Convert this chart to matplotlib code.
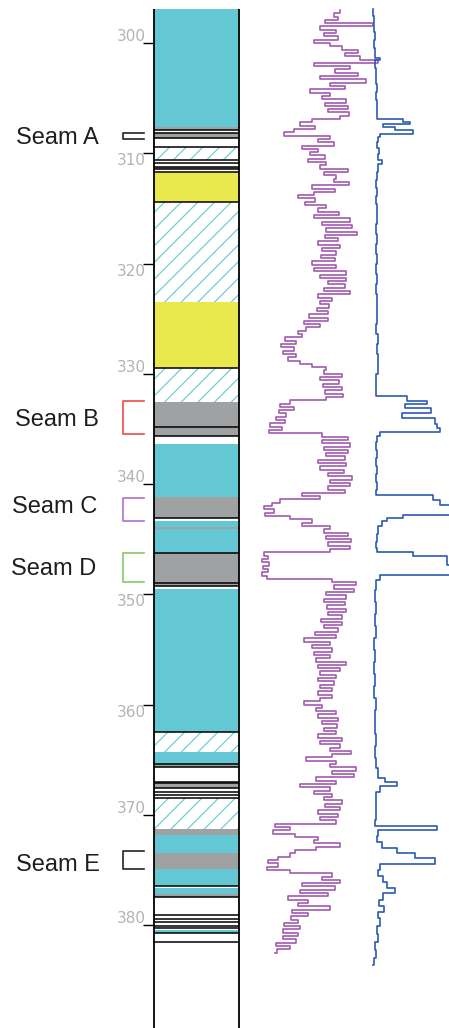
import matplotlib
matplotlib.use("Agg")
import matplotlib.pyplot as plt
import matplotlib.transforms as mtransforms
import numpy as np

# ---- depth frame (m) ----
y_top, y_bot = 296.10, 389.34
col_top = 296.92
depth_ticks = [300, 310, 320, 330, 340, 350, 360, 370, 380]
tick_side = ['above', 'below', 'below', 'above', 'above', 'below', 'below', 'above', 'above']

# ---- lithology column: layer tops and rock type ----
layer_top = [296.92, 307.59, 307.89, 308.16, 308.66, 309.46, 310.58, 311.25, 311.43, 311.67,
             314.45, 323.47, 329.50, 332.60, 335.67, 336.34, 341.20, 343.05, 343.40, 343.90,
             344.05, 346.23, 349.25, 349.55, 362.47, 364.28, 365.42, 365.64, 367.15, 367.60,
             368.50, 371.30, 371.80, 373.50, 374.95, 376.46, 376.60, 377.20, 377.50, 380.45,
             380.75]
layer_lith = ['ss', 'coal', 'sh', 'coal', 'sh', 'silt', 'sh', 'coal', 'sh', 'clay',
              'silt', 'clay', 'silt', 'coal', 'sh', 'ss', 'coal', 'sh', 'ss', 'coal',
              'ss', 'coal', 'sh', 'ss', 'silt', 'ss', 'coal', 'sh', 'coal', 'sh',
              'silt', 'coal', 'ss', 'coal', 'ss', 'sh', 'ss', 'coal', 'sh', 'ss',
              'sh']
contacts = [307.89, 308.16, 308.66, 309.46, 310.58, 310.91, 311.25, 311.43, 311.67, 314.45,
            329.50, 334.86, 335.67, 343.05, 346.23, 349.00, 349.25, 362.47, 365.42, 365.64,
            367.06, 367.15, 367.60, 367.90, 368.20, 368.50, 376.46, 377.50, 379.10, 379.45,
            379.70, 380.10, 380.30, 380.75, 381.50]

# ---- seams ----
seam_names = ['Seam A', 'Seam B', 'Seam C', 'Seam D', 'Seam E']
seam_top = [308.19, 332.45, 341.30, 346.30, 373.26]
seam_base = [308.73, 335.50, 343.35, 348.86, 374.95]
seam_label_depth = [308.62, 334.20, 342.10, 347.70, 374.56]
seam_colors = ['#222222', '#f04a4a', '#b070c8', '#86c866', '#222222']

# ---- gamma log, sampled every 0.3 m from 297.0 m ----
gr_start, gr_step = 297.0, 0.3
gr = [90, 84, 88, 75, 123, 70, 86, 74, 88, 64,
      80, 92, 108, 95, 110, 128, 64, 100, 85, 108,
      70, 116, 80, 95, 60, 80, 72, 96, 75, 98,
      78, 99, 90, 62, 50, 65, 44, 34, 80, 68,
      84, 52, 68, 60, 75, 58, 76, 70, 98, 74,
      86, 84, 99, 62, 85, 64, 48, 65, 55, 76,
      68, 89, 64, 100, 72, 102, 76, 107, 75, 88,
      68, 90, 72, 86, 71, 85, 62, 86, 64, 96,
      70, 96, 78, 95, 74, 100, 68, 82, 70, 79,
      67, 78, 59, 78, 54, 70, 56, 48, 52, 35,
      46, 31, 44, 33, 46, 38, 50, 62, 76, 74,
      92, 70, 89, 73, 92, 75, 93, 76, 40, 30,
      44, 29, 36, 26, 35, 20, 32, 19, 72, 98,
      72, 100, 74, 98, 76, 95, 68, 96, 70, 94,
      78, 102, 80, 100, 78, 95, 52, 70, 30, 22,
      14, 24, 15, 40, 62, 52, 80, 74, 98, 76,
      101, 78, 100, 80, 14, 18, 12, 19, 13, 18,
      12, 17, 82, 106, 84, 104, 76, 96, 74, 95,
      77, 96, 78, 92, 71, 92, 74, 88, 65, 86,
      54, 80, 62, 82, 64, 80, 66, 96, 68, 90,
      70, 86, 68, 84, 70, 82, 68, 82, 70, 54,
      72, 66, 86, 68, 88, 72, 87, 74, 86, 68,
      92, 70, 90, 80, 101, 82, 56, 86, 80, 106,
      82, 104, 66, 86, 50, 80, 64, 82, 74, 92,
      75, 90, 68, 88, 70, 86, 25, 40, 23, 45,
      68, 64, 90, 66, 45, 40, 28, 18, 28, 17,
      40, 82, 72, 90, 52, 85, 50, 78, 38, 58,
      48, 80, 42, 58, 41, 48, 34, 50, 33, 48,
      33, 46, 26, 40, 27, 25]

# ---- second log: depth where each reading starts, value ----
lg_depth = [296.92, 297.55, 298.28, 299.00, 299.73, 300.45, 301.18, 301.36, 301.54, 302.27,
            302.99, 303.72, 304.44, 305.17, 305.90, 306.62, 306.89, 307.17, 307.39, 307.62,
            307.89, 308.25, 308.53, 308.98, 309.52, 310.07, 310.61, 310.97, 311.70, 312.43,
            313.15, 313.88, 314.60, 315.51, 316.42, 317.32, 318.23, 319.14, 320.04, 320.95,
            321.86, 322.77, 323.67, 324.58, 325.49, 326.39, 327.30, 328.21, 329.12, 330.02,
            330.93, 331.66, 332.02, 332.47, 332.74, 333.11, 333.56, 334.01, 334.56, 334.92,
            335.28, 335.65, 336.19, 336.92, 337.64, 338.37, 339.09, 339.82, 340.54, 341.00,
            341.45, 341.90, 342.81, 343.08, 343.36, 343.81, 344.54, 345.26, 345.80, 346.17,
            346.53, 347.35, 348.25, 348.71, 349.61, 350.70, 351.79, 352.88, 353.97, 355.06,
            356.15, 357.23, 358.32, 359.41, 360.50, 361.59, 362.68, 363.76, 364.85, 365.76,
            366.67, 367.03, 367.39, 367.94, 368.66, 369.57, 370.48, 371.02, 371.38, 371.93,
            372.47, 373.02, 373.47, 373.92, 374.47, 375.01, 375.56, 376.10, 376.64, 377.10,
            377.73, 378.28, 378.82, 379.37, 380.09, 380.82, 381.54, 382.27, 382.99, 383.63]
lg_val = [8, 9, 8.5, 9.5, 9, 10, 9.5, 15, 10, 11,
          10.5, 11.5, 11, 12, 11.5, 12, 38, 45, 18, 30,
          48, 15, 13, 12, 14, 12.5, 17, 13, 12, 11,
          12, 11, 12, 11.5, 11, 12, 11, 11.5, 11, 12,
          11, 12, 11.5, 12, 11, 12.5, 12, 13, 12.5, 11,
          10.5, 11, 42, 62, 40, 66, 37, 70, 72, 75,
          15, 12, 11, 12, 10.5, 11.5, 11, 12, 11, 68,
          75, 86, 38, 22, 17, 13, 12, 11, 12, 48,
          82, 85, 15, 11, 10, 11, 9.5, 10.5, 9, 10,
          9, 10, 9, 10.5, 9.5, 10, 11, 10, 11, 13,
          20, 32, 15, 11, 10.5, 11, 10, 72, 13, 12,
          17, 32, 50, 70, 15, 13, 18, 22, 30, 18,
          14, 19, 13, 15, 12, 13, 10, 11, 9, 8]

CYAN = '#63c8d4'
GRAY = '#a0a1a3'
YELLOW = '#e9e84c'
lith_style = {
    'ss': dict(color=CYAN),
    'coal': dict(color=GRAY),
    'sh': dict(color='white'),
    'clay': dict(color=YELLOW),
    'silt': dict(color='white', edgecolor=CYAN, hatch='//'),
}

plt.rcParams['hatch.linewidth'] = 0.8

W, H = 449, 1028
fig = plt.figure(figsize=(W / 100, H / 100), dpi=100)

# lithology column
ax = fig.add_axes([154 / W, 0, 85 / W, 1])
ax.set_xlim(0, 1)
ax.set_ylim(y_bot, y_top)
tops = np.array(layer_top)
bases = np.append(tops[1:], y_bot)
for lith, st in lith_style.items():
    sel = np.array([l == lith for l in layer_lith])
    if sel.any():
        ax.barh((tops[sel] + bases[sel]) / 2, 1, height=bases[sel] - tops[sel],
                left=0, linewidth=0, **st)
ax.hlines(contacts, 0, 1, color='black', lw=1.1)
ax.vlines([0, 1], col_top, y_bot, color='black', lw=1.3, clip_on=False)
for s in ax.spines.values():
    s.set_visible(False)
ax.set_xticks([])
ax.set_yticks(depth_ticks)
ax.tick_params(axis='y', length=8, width=1, color='black', direction='out', labelleft=False)
for t, side in zip(depth_ticks, tick_side):
    if side == 'above':
        ax.annotate(str(t), xy=(0, t), xycoords=('axes fraction', 'data'), xytext=(-6, 1.5),
                    textcoords='offset points', ha='right', va='baseline',
                    fontsize=11, color='#b3b3b3')
    else:
        ax.annotate(str(t), xy=(0, t), xycoords=('axes fraction', 'data'), xytext=(-6, 0),
                    textcoords='offset points', ha='right', va='top',
                    fontsize=11, color='#b3b3b3')

# seam brackets and names
trans = mtransforms.blended_transform_factory(fig.transFigure, ax.transData)
label_x = [16, 15, 12, 11, 16]
for name, t0, t1, ly, c, lx in zip(seam_names, seam_top, seam_base, seam_label_depth,
                                   seam_colors, label_x):
    ax.plot([144 / W, 123 / W, 123 / W, 144 / W], [t0, t0, t1, t1], color=c, lw=1.2,
            transform=trans, clip_on=False)
    ax.text(lx / W, ly, name, transform=trans, ha='left', va='center',
            fontsize=17, family='Liberation Sans', color='#1e1e1e')

# gamma log
ax_gr = fig.add_axes([250 / W, 0, 140 / W, 1])
gr_depth = gr_start + gr_step * np.arange(len(gr))
ax_gr.plot(gr, gr_depth, drawstyle='steps-pre', color='#a25ab0', lw=1.2)
ax_gr.set_xlim(0, 140)
ax_gr.set_ylim(y_bot, y_top)
ax_gr.axis('off')
ax_gr.patch.set_alpha(0)

# second log
ax_lg = fig.add_axes([365 / W, 0, 84 / W, 1])
ax_lg.plot(lg_val, lg_depth, drawstyle='steps-pre', color='#2a5ab4', lw=1.2)
ax_lg.set_xlim(0, 84)
ax_lg.set_ylim(y_bot, y_top)
ax_lg.axis('off')
ax_lg.patch.set_alpha(0)

fig.savefig('out.png', dpi=100)
